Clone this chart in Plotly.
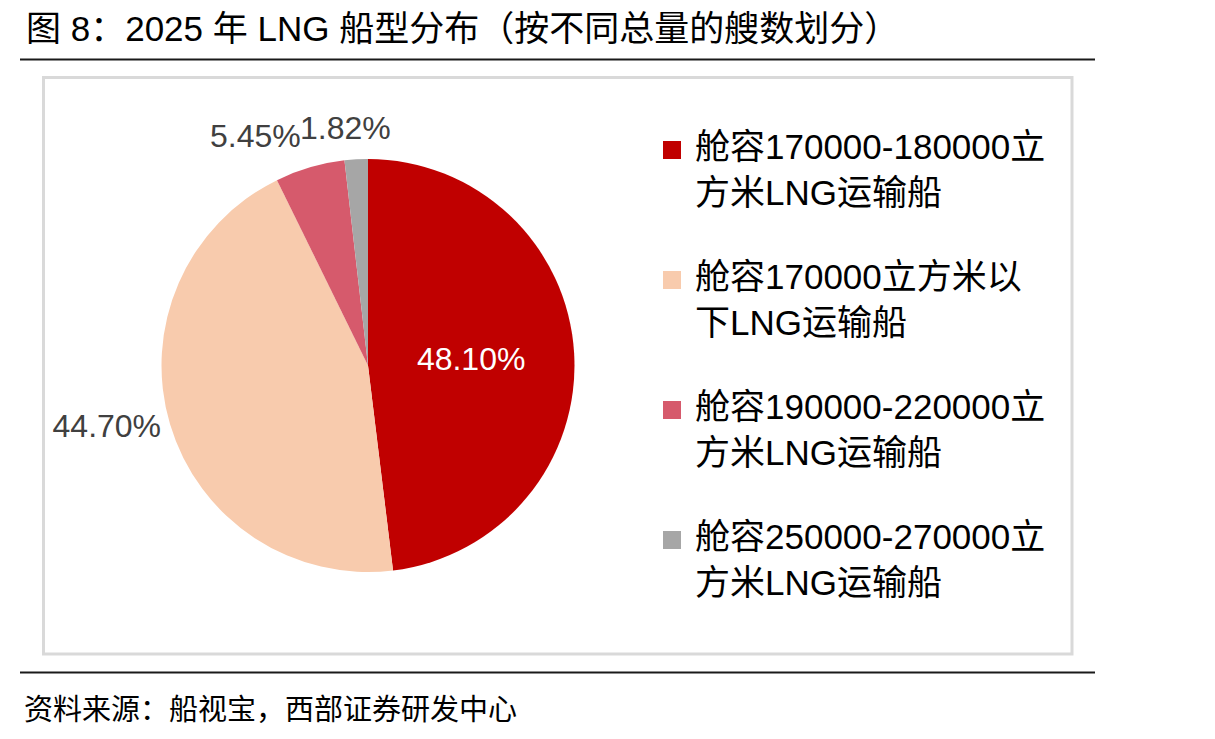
import plotly.graph_objects as go

W, H = 1215, 739

title_text = "图 8：2025 年 LNG 船型分布（按不同总量的艘数划分）"
source_text = "资料来源：船视宝，西部证券研发中心"
categories = [
    "舱容170000-180000立<br>方米LNG运输船",
    "舱容170000立方米以<br>下LNG运输船",
    "舱容190000-220000立<br>方米LNG运输船",
    "舱容250000-270000立<br>方米LNG运输船",
]
values = [48.10, 44.70, 5.45, 1.82]
colors = ["#C00000", "#F8CBAD", "#D65A6C", "#A6A6A6"]
pct_labels = [f"{v:.2f}%" for v in values]

FONT = "Liberation Sans, Arial, Noto Sans CJK SC, sans-serif"

def px(x):
    return x / W

def py(y):
    return 1 - y / H

cx, cy, r = 368, 365.5, 206.5

fig = go.Figure()
fig.add_trace(go.Pie(
    values=values,
    labels=[c.replace("<br>", "") for c in categories],
    text=pct_labels,
    textinfo="text",
    textposition=["inside", "outside", "none", "none"],
    insidetextorientation="horizontal",
    sort=False,
    direction="clockwise",
    rotation=0,
    marker=dict(colors=colors, line=dict(width=0)),
    insidetextfont=dict(family=FONT, size=32, color="white"),
    outsidetextfont=dict(family=FONT, size=32, color="#404040"),
    domain=dict(x=[px(cx - r), px(cx + r)], y=[py(cy + r), py(cy - r)]),
    showlegend=False,
    hoverinfo="label+text",
))

shapes = [
    dict(type="line", xref="paper", yref="paper", x0=px(20), x1=px(1095), y0=py(59.5), y1=py(59.5),
         line=dict(color="#1a1a1a", width=2)),
    dict(type="rect", xref="paper", yref="paper", x0=px(43.5), x1=px(1072), y0=py(654), y1=py(77.5),
         line=dict(color="#D9D9D9", width=3)),
    dict(type="line", xref="paper", yref="paper", x0=px(20), x1=px(1095), y0=py(672.5), y1=py(672.5),
         line=dict(color="#1a1a1a", width=2)),
]

annotations = [
    dict(text=title_text, x=px(24), y=py(29), xref="paper", yref="paper", xanchor="left", yanchor="middle",
         showarrow=False, font=dict(family=FONT, size=35, color="#000000")),
    dict(text=source_text, x=px(22), y=py(710), xref="paper", yref="paper", xanchor="left", yanchor="middle",
         showarrow=False, font=dict(family=FONT, size=29, color="#000000")),
    # labels of the two small slices, placed side by side above the pie
    dict(text=pct_labels[2], x=px(255), y=py(136), xref="paper", yref="paper", xanchor="center",
         yanchor="middle", showarrow=False, font=dict(family=FONT, size=32, color="#404040")),
    dict(text=pct_labels[3], x=px(345.5), y=py(128), xref="paper", yref="paper", xanchor="center",
         yanchor="middle", showarrow=False, font=dict(family=FONT, size=32, color="#404040")),
]

leg_tops = [150, 280, 410, 540]
for i, (lab, col) in enumerate(zip(categories, colors)):
    yc = leg_tops[i]
    shapes.append(dict(type="rect", xref="paper", yref="paper",
                       x0=px(663), x1=px(681), y0=py(yc + 9), y1=py(yc - 9),
                       fillcolor=col, line=dict(width=0)))
    annotations.append(dict(text=lab, x=px(693), y=py(yc - 25), xref="paper", yref="paper",
                            xanchor="left", yanchor="top", align="left", showarrow=False,
                            font=dict(family=FONT, size=35, color="#000000")))

fig.update_layout(
    width=W, height=H,
    margin=dict(l=0, r=0, t=0, b=0),
    paper_bgcolor="white", plot_bgcolor="white",
    shapes=shapes, annotations=annotations,
)

fig.write_html("out.html")
